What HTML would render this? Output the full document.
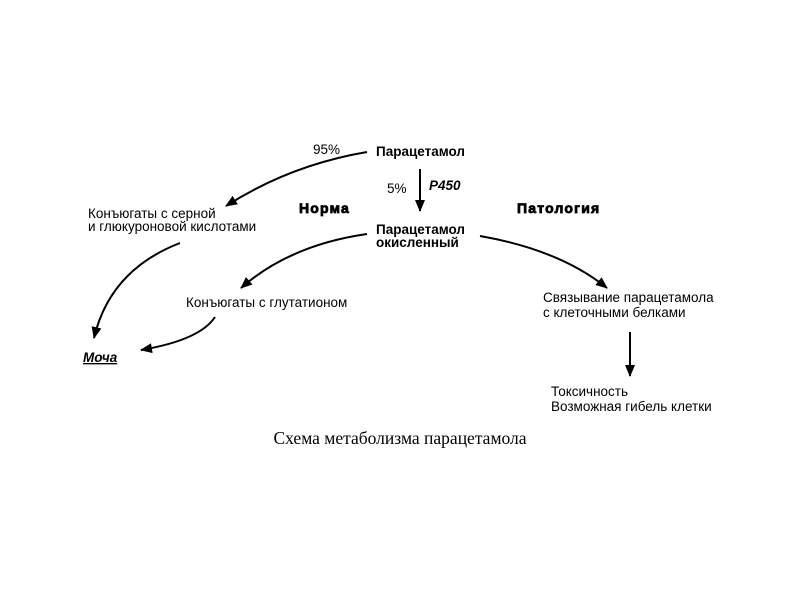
<!DOCTYPE html>
<html><head><meta charset="utf-8"><style>body{margin:0;background:#fff}svg{display:block}</style></head>
<body>
<svg width="800" height="600" viewBox="0 0 800 600" xmlns="http://www.w3.org/2000/svg" font-family="Liberation Sans, sans-serif" font-size="13.5">
<defs><marker id="a" markerWidth="14" markerHeight="14" refX="11" refY="6" orient="auto" markerUnits="userSpaceOnUse"><path d="M0,1 L12,6 L0,11 Z" fill="#000"/></marker></defs>
<g fill="none" stroke="#000" stroke-width="2" marker-end="url(#a)">
<path d="M367,152 Q290,165 226,206"/>
<path d="M420,169 L420,211"/>
<path d="M180,243 Q110,270 94,338"/>
<path d="M367,234 Q290,245 241,288"/>
<path d="M215,317 Q200,340 141,350"/>
<path d="M480,236 Q560,250 607,288"/>
<path d="M630,332 L630,376"/>
</g>
<text x="313" y="154">95%</text>
<text x="376" y="156" font-weight="bold">Парацетамол</text>
<text x="387" y="193">5%</text>
<text x="429" y="190" font-weight="bold" font-style="italic">P450</text>
<text x="299" y="213" font-weight="bold" font-size="14" stroke="#000" stroke-width="0.8" letter-spacing="1.2">Норма</text>
<text x="517" y="213" font-weight="bold" font-size="14" stroke="#000" stroke-width="0.8" letter-spacing="1.2">Патология</text>
<text x="88" y="218">Конъюгаты с серной</text>
<text x="88" y="231">и глюкуроновой кислотами</text>
<text x="376" y="234" font-weight="bold">Парацетамол</text>
<text x="376" y="247" font-weight="bold">окисленный</text>
<text x="186" y="307">Конъюгаты с глутатионом</text>
<text x="83" y="362" font-weight="bold" font-style="italic" text-decoration="underline">Моча</text>
<text x="543" y="302">Связывание парацетамола</text>
<text x="543" y="317">с клеточными белками</text>
<text x="551" y="396">Токсичность</text>
<text x="551" y="411">Возможная гибель клетки</text>
<text x="400" y="444" text-anchor="middle" font-family="Liberation Serif, serif" font-size="17.5">Схема метаболизма парацетамола</text>
</svg>
</body></html>
